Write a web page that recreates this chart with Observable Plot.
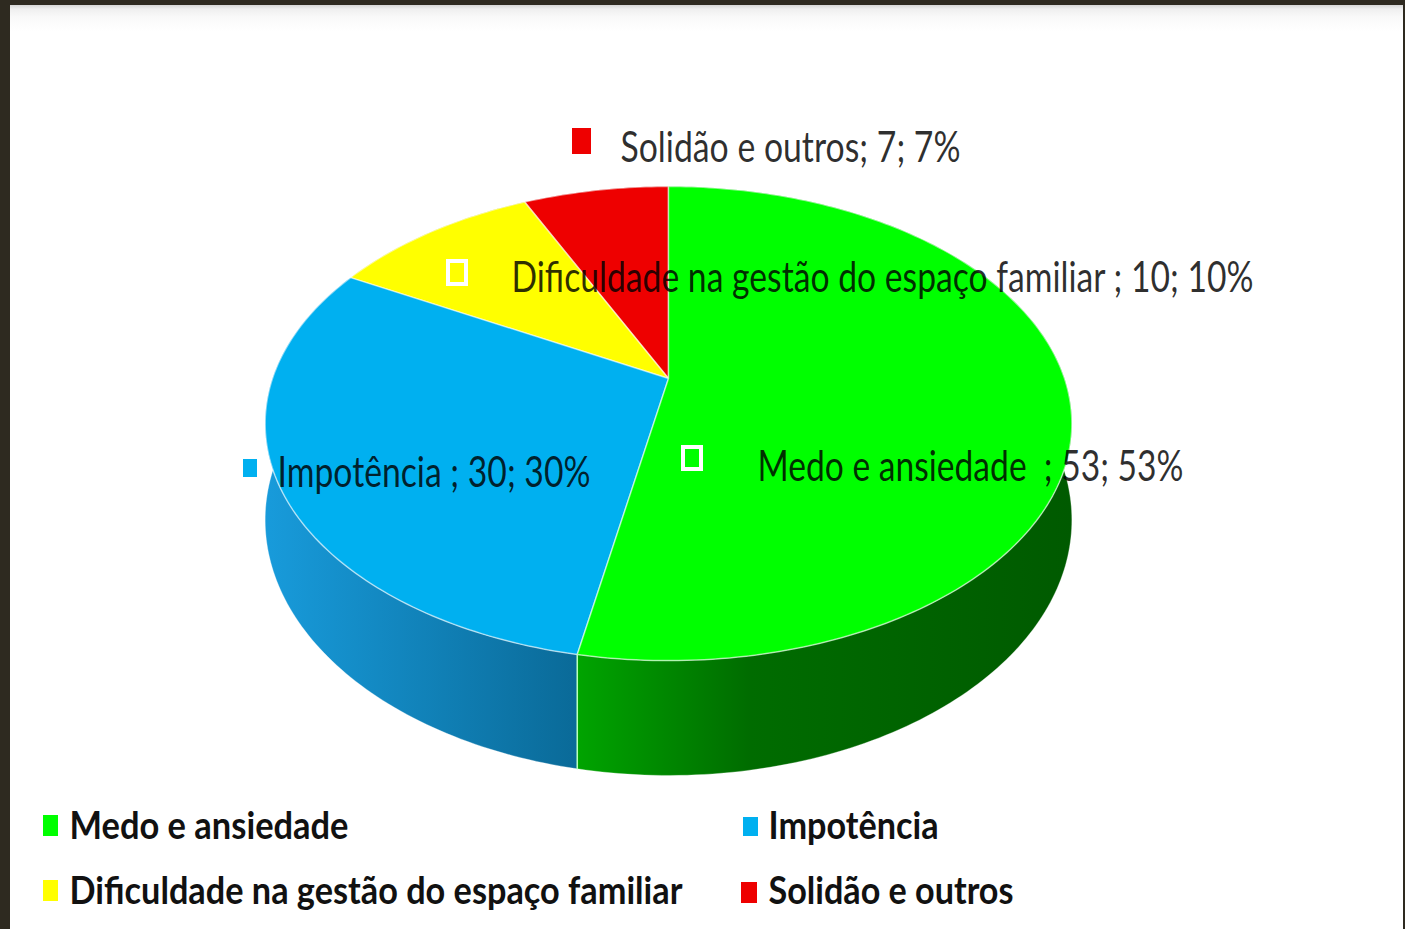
<!DOCTYPE html>
<html><head><meta charset="utf-8">
<script src="https://cdn.jsdelivr.net/npm/d3@7"></script>
<script src="https://cdn.jsdelivr.net/npm/@observablehq/plot@0.6"></script>
<style>
html,body{margin:0;padding:0;background:#2e2a20;width:1405px;height:929px;overflow:hidden}
#frame{position:absolute;left:10px;top:5px;width:1393px;height:924px;
 background:linear-gradient(#d6d6d6 0px,#efefef 4px,#f9f9f9 12px,#ffffff 26px);}
#frame svg{display:block}
</style></head><body><div id="frame"></div>
<script>
// ---- data ----
const categories = ["Medo e ansiedade", "Impotência", "Dificuldade na gestão do espaço familiar", "Solidão e outros"];
const values = [53, 30, 10, 7];
const labelSeparators = ["  ; ", " ; ", " ; ", "; "];
const topColors = ["#00ff00", "#00b0f0", "#ffff00", "#ee0000"];

// ---- layout (styles / positions, not data) ----
const PIE = {cx: 668, A: 378, B: 156.7, C: -0.19, K: 396, depth: 93};
const WALL_GRADIENTS = [
  [[0, "#00a400"], [0.35, "#006c00"], [1, "#005a00"]],
  [[0, "#189bdb"], [1, "#0a6a98"]],
  [[0, "#b8b800"], [1, "#8a8a00"]],
  [[0, "#b00000"], [1, "#800000"]]
];
const LABEL_LAYOUT = [
  {x: 757, baseline: 480, width: 426, key: [683, 701, 447, 469]},
  {x: 277, baseline: 486, width: 313, key: [241, 259, 457, 479]},
  {x: 511, baseline: 291, width: 742, key: [448, 466, 261, 284]},
  {x: 620, baseline: 161, width: 340, key: [570, 593, 126, 156]}
];
const LEGEND_LAYOUT = [
  {x: 69, baseline: 838, width: 279, key: [43, 58, 815, 836]},
  {x: 768, baseline: 838, width: 170, key: [743, 758, 817, 836]},
  {x: 69, baseline: 903, width: 613, key: [43, 58, 880, 901]},
  {x: 768, baseline: 903, width: 245, key: [741, 757, 882, 903]}
];

// ---- geometry derived from the values ----
const total = d3.sum(values);
let acc = 0;
const slices = categories.map((name, i) => {
  const a0 = acc / total * 360; acc += values[i]; const a1 = acc / total * 360;
  return {i, name, value: values[i], a0, a1};
});
function proj(deg, r, z) {
  const t = deg * Math.PI / 180;
  const u = r * Math.sin(t), v = -r * Math.cos(t);
  const w = 1 + PIE.C * v;
  return {x: PIE.cx + PIE.K * u / w, y: (PIE.A + PIE.B * v + z * PIE.depth) / w};
}
function arc(a0, a1, z) {
  const n = Math.max(2, Math.ceil(a1 - a0));
  return d3.range(n + 1).map(k => proj(a0 + (a1 - a0) * k / n, 1, z));
}
const walls = slices.map(s => arc(s.a0, s.a1, 0).concat(arc(s.a0, s.a1, 1).reverse()));
const tops = slices.map(s => [proj(0, 0, 0), ...arc(s.a0, s.a1, 0)]);
const frontEdge = [proj(slices[0].a1, 1, 0), proj(slices[0].a1, 1, 1)];

const labels = slices.map((s, i) => ({
  text: s.name + labelSeparators[i] + s.value + "; " + Math.round(s.value / total * 100) + "%",
  x: LABEL_LAYOUT[i].x, y: LABEL_LAYOUT[i].baseline, i,
  kx1: LABEL_LAYOUT[i].key[0], kx2: LABEL_LAYOUT[i].key[1], ky1: LABEL_LAYOUT[i].key[2], ky2: LABEL_LAYOUT[i].key[3]
}));
const legend = slices.map((s, i) => ({
  text: s.name, x: LEGEND_LAYOUT[i].x, y: LEGEND_LAYOUT[i].baseline, i,
  kx1: LEGEND_LAYOUT[i].key[0], kx2: LEGEND_LAYOUT[i].key[1], ky1: LEGEND_LAYOUT[i].key[2], ky2: LEGEND_LAYOUT[i].key[3]
}));

const marks = [];
[3, 2, 1, 0].forEach(i => marks.push(Plot.line(walls[i], {
  x: "x", y: "y", curve: "linear-closed", fill: `url(#wall${i})`,
  stroke: "white", strokeOpacity: 0.3, strokeWidth: 1
})));
[3, 2, 1, 0].forEach(i => marks.push(Plot.line(tops[i], {
  x: "x", y: "y", curve: "linear-closed", fill: topColors[i],
  stroke: "white", strokeOpacity: 0.55, strokeWidth: 1.5
})));
marks.push(Plot.line(frontEdge, {x: "x", y: "y", stroke: "#b8ffb8", strokeWidth: 1.5}));
marks.push(Plot.rect(labels, {
  x1: "kx1", x2: "kx2", y1: "ky1", y2: "ky2",
  fill: d => topColors[d.i], stroke: "white", strokeWidth: 4
}));
marks.push(Plot.text(labels, {
  x: "x", y: "y", text: "text", textAnchor: "start", lineAnchor: "bottom",
  fontSize: 42, fontFamily: "Lato, 'Open Sans', sans-serif", fill: "black", fillOpacity: 0.82,
  className: "pie-label"
}));
marks.push(Plot.rect(legend, {
  x1: "kx1", x2: "kx2", y1: "ky1", y2: "ky2", fill: d => topColors[d.i]
}));
marks.push(Plot.text(legend, {
  x: "x", y: "y", text: "text", textAnchor: "start", lineAnchor: "bottom",
  fontSize: 38, fontWeight: "bold", fontFamily: "Lato, 'Open Sans', sans-serif", fill: "#111",
  className: "legend-label"
}));

const chart = Plot.plot({
  width: 1393, height: 924,
  marginLeft: 0, marginRight: 0, marginTop: 0, marginBottom: 0,
  x: {domain: [10, 1403], axis: null},
  y: {domain: [929, 5], axis: null},
  style: {background: "transparent", overflow: "visible"},
  marks
});

// gradients for the side walls
const svg = d3.select(chart);
const defs = svg.insert("defs", ":first-child");
WALL_GRADIENTS.forEach((stops, i) => {
  const g = defs.append("linearGradient").attr("id", `wall${i}`)
    .attr("x1", 0).attr("x2", 1).attr("y1", 0).attr("y2", 0);
  stops.forEach(([o, c]) => g.append("stop").attr("offset", o).attr("stop-color", c));
});
// fit the label widths to the reference
svg.selectAll(".pie-label text").each(function(_, k) {
  d3.select(this).attr("textLength", LABEL_LAYOUT[k].width).attr("lengthAdjust", "spacingAndGlyphs")
    .style("white-space", "pre");
});
svg.selectAll(".legend-label text").each(function(_, k) {
  d3.select(this).attr("textLength", LEGEND_LAYOUT[k].width).attr("lengthAdjust", "spacingAndGlyphs");
});
document.getElementById("frame").appendChild(chart);
</script></body></html>
